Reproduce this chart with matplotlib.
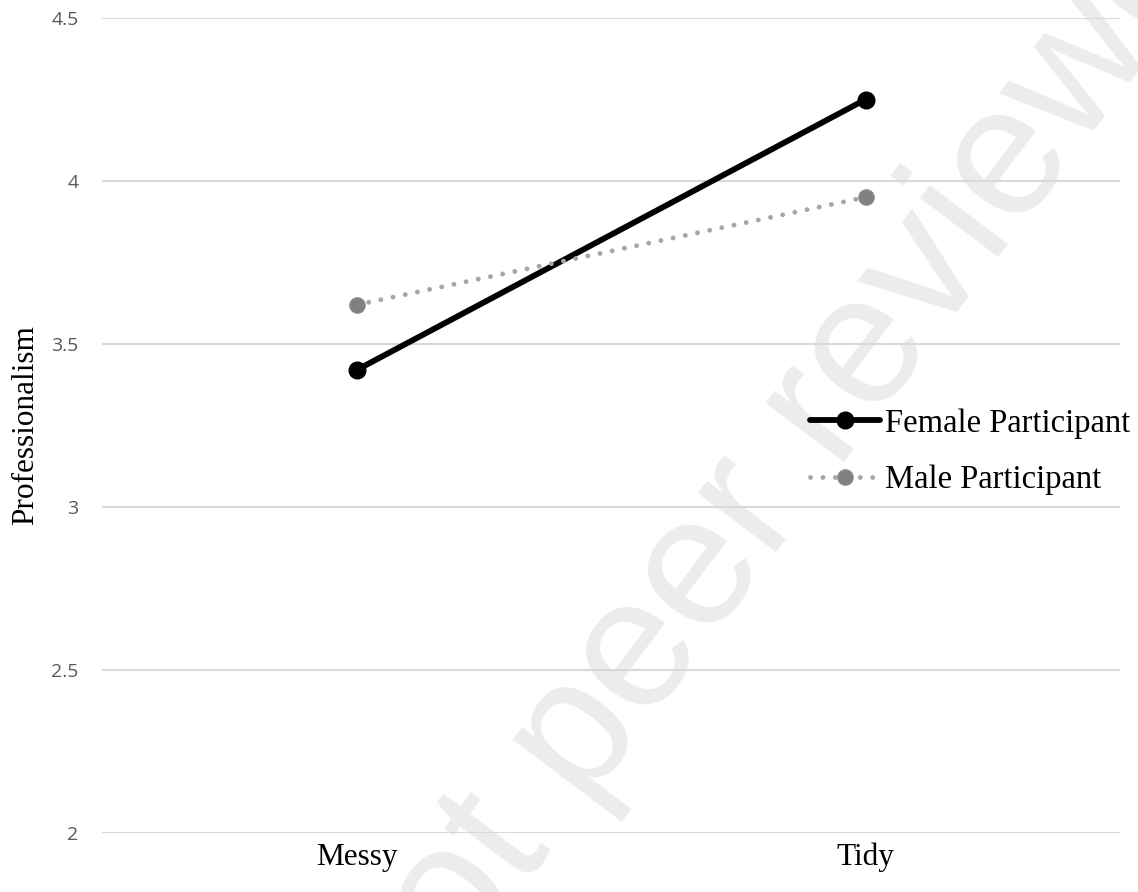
import matplotlib.pyplot as plt
import numpy as np

# data
conditions = ['Messy', 'Tidy']
female = [3.42, 4.25]
male = [3.62, 3.95]
yticks = [2, 2.5, 3, 3.5, 4, 4.5]
ytick_labels = ['2', '2.5', '3', '3.5', '4', '4.5']

fig = plt.figure(figsize=(11.38, 8.92), dpi=100)
ax = fig.add_axes([102 / 1138, 1 - 833 / 892, (1120 - 102) / 1138, (833 - 18) / 892])
ax.set_zorder(1)

x = np.arange(len(conditions))

# watermark (behind everything)
fig.text(0.697, 0.494, 'Not peer reviewed', fontsize=133, color='#ececec',
         rotation=53, ha='center', va='center', family='Liberation Sans', zorder=0)

ax.plot(x, female, color='black', lw=4.2, marker='o', ms=12,
        label='Female Participant', zorder=3, solid_capstyle='round')
ax.plot(x, male, color='#a6a6a6', lw=3.5, ls=(0, (0.01, 2.55)), dash_capstyle='round',
        marker='o', ms=11, mfc='#808080', mec='#8c8c8c',
        label='Male Participant', zorder=3)

ax.set_xlim(-0.5, 1.5)
ax.set_ylim(2, 4.5)
ax.set_yticks(yticks)
ax.set_yticklabels(ytick_labels, family='Open Sans', fontsize=14, color='#595959')
ax.set_xticks(x)
ax.set_xticklabels(conditions, family='Liberation Serif', fontsize=22.5, color='black')
ax.tick_params(length=0)
ax.tick_params(axis='y', pad=17)
ax.tick_params(axis='x', pad=7)
ax.grid(axis='y', color='#d9d9d9', lw=1.5)
ax.set_axisbelow(True)
for s in ax.spines.values():
    s.set_visible(False)
ax.patch.set_alpha(0)

ax.set_ylabel('Professionalism', family='Liberation Serif', fontsize=22.5, labelpad=8)

ax.legend(loc='center left', bbox_to_anchor=(0.712, 0.4935), bbox_transform=fig.transFigure,
          frameon=False, prop={'family': 'Liberation Serif', 'size': 23.5},
          handlelength=2.15, handletextpad=0.15, labelspacing=0.8, borderpad=0,
          borderaxespad=0)

fig.savefig('out.png', dpi=100)
